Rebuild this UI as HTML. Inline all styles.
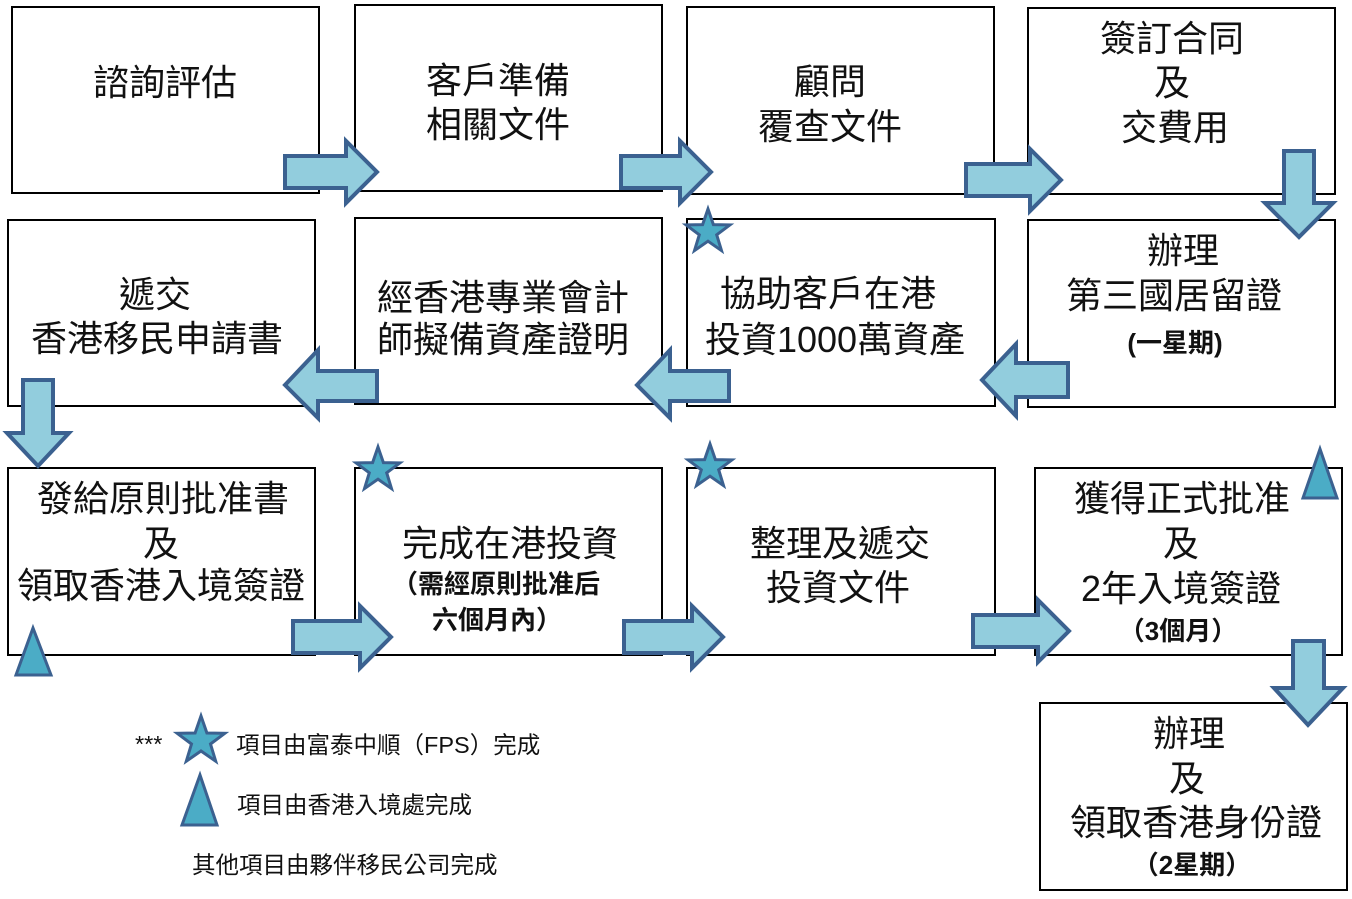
<!DOCTYPE html>
<html><head><meta charset="utf-8"><style>
html,body{margin:0;padding:0;background:#fff;width:1352px;height:899px;overflow:hidden}
svg{display:block}
text{font-family:"Liberation Sans","Noto Sans CJK TC",sans-serif;fill:#111}
.t{font-size:36px}
.b{font-size:26px;font-weight:bold}
.l{font-size:23.5px}
</style></head><body>
<svg width="1352" height="899" viewBox="0 0 1352 899" xmlns="http://www.w3.org/2000/svg">
<g fill="#fff" stroke="#000" stroke-width="2">
<rect x="12" y="7" width="307" height="186"/>
<rect x="355" y="5" width="307" height="186"/>
<rect x="687" y="7" width="307" height="187"/>
<rect x="1028" y="8" width="307" height="186"/>
<rect x="8" y="220" width="307" height="186"/>
<rect x="355" y="218" width="307" height="186"/>
<rect x="687" y="219" width="308" height="187"/>
<rect x="1028" y="220" width="307" height="187"/>
<rect x="8" y="468" width="307" height="187"/>
<rect x="355" y="468" width="307" height="187"/>
<rect x="687" y="468" width="308" height="187"/>
<rect x="1035" y="468" width="307" height="187"/>
<rect x="1040" y="703" width="307" height="187"/>
</g>
<g fill="#92cddd" stroke="#3b6190" stroke-width="4" stroke-linejoin="miter">
<polygon points="285,156 346,156 346,141 377,172 346,203 346,188 285,188"/>
<polygon points="621,156 680,156 680,141 711,172 680,203 680,188 621,188"/>
<polygon points="966,164 1030,164 1030,149 1061,180 1030,211 1030,196 966,196"/>
<polygon points="293,621 360,621 360,606 391,637 360,668 360,653 293,653"/>
<polygon points="624,621 692,621 692,606 723,637 692,668 692,653 624,653"/>
<polygon points="973,615 1038,615 1038,600 1069,631 1038,662 1038,647 973,647"/>
<polygon points="1068,363 1016,363 1016,344 982,380 1016,416 1016,397 1068,397"/>
<polygon points="729,371 670,371 670,350 637,385 670,418 670,401 729,401"/>
<polygon points="377,371 318,371 318,350 285,385 318,418 318,401 377,401"/>
<polygon points="1284,151 1314,151 1314,203 1333,203 1299,237 1265,203 1284,203"/>
<polygon points="23,380 53,380 53,433 69,433 38,466 7,433 23,433"/>
<polygon points="1293,641 1324,641 1324,688 1343,688 1308,725 1274,688 1293,688"/>
</g>
<g fill="#4bacc6" stroke="#3b6190" stroke-width="3" stroke-linejoin="miter">
<polygon points="0,-23 5.4,-7.4 21.9,-7.1 8.7,2.8 13.5,18.6 0,9.2 -13.5,18.6 -8.7,2.8 -21.9,-7.1 -5.4,-7.4" transform="translate(708,232)"/>
<polygon points="0,-23 5.4,-7.4 21.9,-7.1 8.7,2.8 13.5,18.6 0,9.2 -13.5,18.6 -8.7,2.8 -21.9,-7.1 -5.4,-7.4" transform="translate(378,470)"/>
<polygon points="0,-23 5.4,-7.4 21.9,-7.1 8.7,2.8 13.5,18.6 0,9.2 -13.5,18.6 -8.7,2.8 -21.9,-7.1 -5.4,-7.4" transform="translate(710,467)"/>
<polygon points="0,-25 5.9,-8 23.8,-7.7 9.5,3 14.7,20.2 0,10 -14.7,20.2 -9.5,3 -23.8,-7.7 -5.9,-8" transform="translate(201,741)"/>
<polygon points="33,628 51,675 16,675"/>
<polygon points="1320,449 1337,498 1303,498"/>
<polygon points="200,775 217,825 182,825"/>
</g>
<g text-anchor="middle" class="t">
<text x="165" y="95">諮詢評估</text>
<text x="498" y="93">客戶準備</text><text x="498" y="137">相關文件</text>
<text x="830" y="94">顧問</text><text x="830" y="139">覆查文件</text>
<text x="1172" y="51">簽訂合同</text><text x="1172" y="95">及</text><text x="1175" y="140">交費用</text>
<text x="1183" y="263">辦理</text><text x="1174" y="308">第三國居留證</text>
<text x="1175" y="352" class="b">(一星期)</text>
<text x="155" y="307">遞交</text><text x="157" y="351">香港移民申請書</text>
<text x="503" y="310">經香港專業會計</text><text x="503" y="352">師擬備資產證明</text>
<text x="828" y="306">協助客戶在港</text><text x="835" y="352">投資1000萬資產</text>
<text x="163" y="511">發給原則批准書</text><text x="161" y="556">及</text><text x="161" y="598">領取香港入境簽證</text>
<text x="510" y="556">完成在港投資</text>
<text x="496" y="593" class="b">（需經原則批准后</text><text x="497" y="629" class="b">六個月內）</text>
<text x="840" y="556">整理及遞交</text><text x="838" y="600">投資文件</text>
<text x="1182" y="511">獲得正式批准</text><text x="1181" y="556">及</text><text x="1181" y="601">2年入境簽證</text>
<text x="1178" y="640" class="b">（3個月）</text>
<text x="1189" y="746">辦理</text><text x="1187" y="791">及</text><text x="1196" y="835">領取香港身份證</text>
<text x="1192" y="874" class="b">（2星期）</text>
</g>
<text x="135" y="752" class="l">***</text>
<text x="236" y="753" class="l">項目由富泰中順（FPS）完成</text>
<text x="237" y="813" class="l">項目由香港入境處完成</text>
<text x="192" y="873" class="l">其他項目由夥伴移民公司完成</text>
</svg>
</body></html>
